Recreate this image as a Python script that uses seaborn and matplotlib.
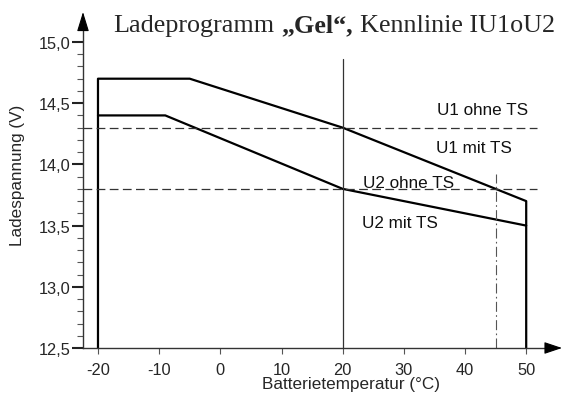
import matplotlib
matplotlib.use("Agg")
import matplotlib.pyplot as plt
import seaborn as sns
import pandas as pd
import numpy as np

# ---- data ----
u1_temp = [-20, -20, -5, 20, 50, 50]
u1_volt = [12.5, 14.7, 14.7, 14.3, 13.7, 12.5]
u2_temp = [-20, -9, 20, 50]
u2_volt = [14.4, 14.4, 13.8, 13.5]
ref_temp = [20, 20]
ref_volt = [12.5, 14.86]
ts_temp = [45, 45]
ts_volt = [12.5, 13.92]
u1_ohne = 14.3
u2_ohne = 13.8
dash_x = [-22.45, 51.7]
xticks = [-20, -10, 0, 10, 20, 30, 40, 50]
xticklabels = ["-20", "-10", "0", "10", "20", "30", "40", "50"]
yticks = [12.5, 13.0, 13.5, 14.0, 14.5, 15.0]
yticklabels = ["12,5", "13,0", "13,5", "14,0", "14,5", "15,0"]
labels = [("U1 ohne TS", 35.45, 14.41), ("U1 mit TS", 35.3, 14.10),
          ("U2 ohne TS", 23.3, 13.815), ("U2 mit TS", 23.2, 13.49)]

sns.set_theme(style="white")
plt.rcParams['font.family'] = ['Liberation Sans', 'DejaVu Sans']

fig = plt.figure(figsize=(5.62, 4.02), dpi=100)
W, H = 562, 402
L, R, T, B = 83, 547, 30, 349
ax = fig.add_axes([L / W, (H - B) / H, (R - L) / W, (B - T) / H])
ax.set_xlim(-22.45, 53.4)
ax.set_ylim(12.5, 15.106)

df1 = pd.DataFrame({"t": u1_temp, "u": u1_volt})
df2 = pd.DataFrame({"t": u2_temp, "u": u2_volt})
sns.lineplot(data=df1, x="t", y="u", sort=False, estimator=None, color="black", lw=1.6, ax=ax)
sns.lineplot(data=df2, x="t", y="u", sort=False, estimator=None, color="black", lw=1.6, ax=ax)
ax.plot(ref_temp, ref_volt, color="#333333", lw=0.9)
ax.plot(ts_temp, ts_volt, color="#555555", lw=0.8, dashes=(9, 3, 1.5, 3))
for yv in (u1_ohne, u2_ohne):
    ax.plot(dash_x, [yv, yv], color="#333333", lw=0.9, dashes=(7, 3.5))

for txt, xv, yv in labels:
    ax.text(xv, yv, txt, fontsize=12.3, ha="left", va="baseline", color="#111111")

for s in ("top", "right"):
    ax.spines[s].set_visible(False)
for s in ("left", "bottom"):
    ax.spines[s].set_color("#333333")
    ax.spines[s].set_linewidth(1.0)

ax.set_xticks(xticks)
ax.set_xticklabels(xticklabels)
ax.set_yticks(yticks)
ax.set_yticklabels(yticklabels)
ax.set_yticks(np.arange(12.6, 15.0, 0.1), minor=True)
ax.tick_params(axis="x", which="major", direction="out", length=4.5, width=0.8,
               color="#555555", labelsize=11.8, pad=5.5, bottom=True)
ax.tick_params(axis="y", which="major", direction="out", length=8, width=1.5,
               color="#222222", labelsize=11.8, pad=1, left=True)
ax.tick_params(axis="y", which="minor", direction="out", length=4.5, width=0.8,
               color="#555555", left=True)
ax.set_xlabel("")
ax.set_ylabel("")

ax.text(0.578, -0.088, "Batterietemperatur (°C)", transform=ax.transAxes,
        fontsize=12.3, ha="center", va="top")
ax.text(-0.1420, 0.545, "Ladespannung (V)", transform=ax.transAxes,
        fontsize=12.3, ha="center", va="center", rotation=90)

# arrow heads
ax.annotate("", xy=(1 + 15 / (R - L), 0), xytext=(1, 0), xycoords="axes fraction",
            arrowprops=dict(arrowstyle="-|>,head_length=1.1,head_width=0.37",
                            color="black", lw=0.8, shrinkA=0, shrinkB=0, mutation_scale=10),
            annotation_clip=False)
ax.annotate("", xy=(0, 1 + 17 / (B - T)), xytext=(0, 1), xycoords="axes fraction",
            arrowprops=dict(arrowstyle="-|>,head_length=1.2,head_width=0.37",
                            color="black", lw=0.8, shrinkA=0, shrinkB=0, mutation_scale=10),
            annotation_clip=False)

# title in three parts
fig.canvas.draw()
r = fig.canvas.get_renderer()
x0 = 113 / W
yb = (H - 32) / H
parts = [("Ladeprogramm", "normal", 7.5), ("„Gel“,", "bold", 7.0), ("Kennlinie IU1oU2", "normal", 0)]
for txt, wt, gap in parts:
    t = fig.text(x0, yb, txt, fontsize=18.8, family=["Liberation Serif", "DejaVu Serif"],
                 weight=wt, ha="left", va="baseline")
    bb = t.get_window_extent(renderer=r)
    x0 = (bb.x1 + gap) / W

fig.savefig("out.png", dpi=100)
